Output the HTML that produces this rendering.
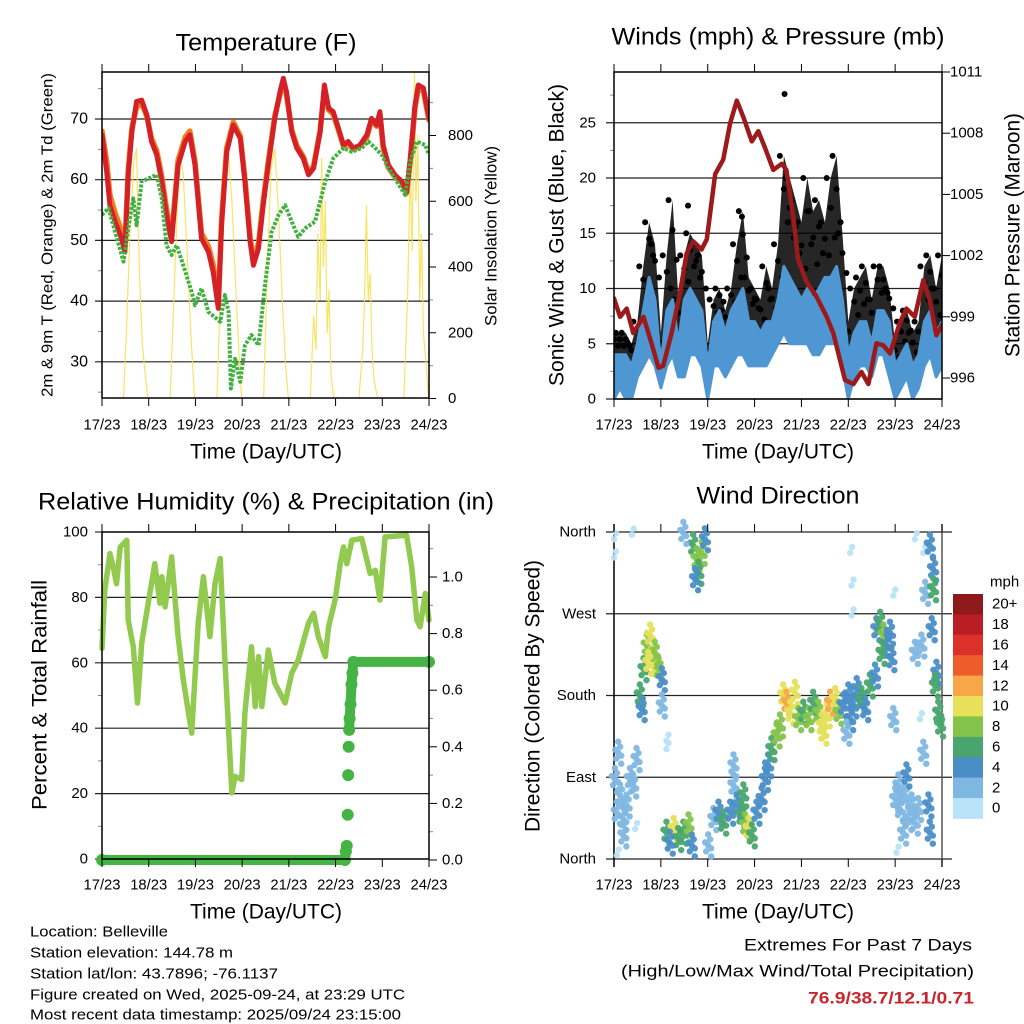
<!DOCTYPE html>
<html><head><meta charset="utf-8"><style>
html,body{margin:0;padding:0;background:#fff;}
svg{display:block;font-family:"Liberation Sans",Arial,sans-serif;}
</style></head><body>
<svg id="chart" width="1024" height="1024" viewBox="0 0 1024 1024" xmlns="http://www.w3.org/2000/svg">
<rect x="0" y="0" width="1024" height="1024" fill="#fff"/>
</svg>
<script>
// ---------- DATA ----------
const dayLabels = ["17/23","18/23","19/23","20/23","21/23","22/23","23/23","24/23"];
// Temperature panel
const tempT = [0.00,0.10,0.17,0.28,0.42,0.49,0.56,0.64,0.74,0.85,0.96,1.06,1.17,1.28,1.38,1.49,1.63,1.78,1.88,1.99,2.13,2.28,2.38,2.49,2.56,2.67,2.81,2.96,3.06,3.17,3.24,3.35,3.45,3.56,3.70,3.81,3.88,3.95,4.06,4.17,4.31,4.42,4.53,4.67,4.76,4.85,4.95,5.06,5.17,5.27,5.38,5.52,5.67,5.77,5.88,5.95,6.02,6.13,6.27,6.42,6.52,6.60,6.70,6.77,6.88,7.00];
const temp2m = [67.4,61.3,55.8,53.1,50.3,48.1,60.8,67.9,72.9,73.1,70.7,66.3,64.1,59.7,54.2,49.8,62.4,66.3,67.4,62.4,50.3,48.1,44.8,38.8,52.5,64.6,69.0,66.8,59.7,49.8,45.9,48.7,55.8,62.4,70.1,74.5,76.7,74.5,67.9,65.2,63.5,60.8,61.9,67.9,75.6,71.8,71.2,68.5,65.7,66.3,65.2,65.7,67.4,70.1,69.0,71.2,65.7,62.4,60.8,59.7,58.0,63.5,72.3,75.6,75.1,70.1];
const temp9m = [68.0,63.0,57.5,54.5,51.5,48.8,61.5,68.5,72.0,72.5,70.5,66.8,64.8,60.5,55.2,50.6,63.2,67.0,68.0,63.0,51.2,49.0,46.0,39.5,53.5,65.2,69.5,67.2,60.2,50.5,46.8,49.5,56.5,63.0,70.5,74.0,76.0,74.0,68.2,65.6,63.8,61.2,62.2,68.2,75.0,71.5,70.8,68.2,65.5,66.0,65.0,65.5,67.0,69.8,68.8,70.8,65.2,62.0,60.5,59.5,57.8,63.2,71.8,75.0,74.6,69.8];
const dewT = [0.00,0.14,0.28,0.46,0.56,0.67,0.74,0.85,0.99,1.17,1.28,1.38,1.49,1.60,1.74,1.92,1.99,2.13,2.28,2.53,2.63,2.71,2.76,2.85,2.96,3.06,3.20,3.35,3.49,3.63,3.78,3.92,4.06,4.20,4.35,4.56,4.78,4.95,5.17,5.35,5.56,5.70,5.85,5.99,6.13,6.27,6.49,6.60,6.74,6.92,7.00];
const dewV = [54.2,55.3,51.4,46.5,52.0,56.9,52.5,59.7,60.2,60.8,56.9,49.2,47.6,49.2,45.9,41.5,39.3,42.1,38.2,36.6,41.0,38.2,25.6,30.5,26.7,32.7,34.4,32.7,42.6,51.4,54.2,55.8,53.1,50.6,52.0,53.1,59.7,63.5,65.2,64.6,65.2,66.3,65.2,64.1,61.9,60.2,57.5,63.0,66.3,65.7,64.1];
const solarT = [0,0.46,0.52,0.60,0.68,0.74,0.78,0.81,0.86,0.92,0.98,1.46,1.55,1.62,1.68,1.74,1.82,1.90,1.98,2.46,2.55,2.62,2.70,2.78,2.86,2.94,2.99,3.46,3.54,3.62,3.70,3.78,3.86,3.93,3.99,4.46,4.53,4.58,4.62,4.67,4.70,4.74,4.78,4.82,4.86,4.90,4.96,5.50,5.58,5.62,5.66,5.70,5.74,5.78,5.82,5.90,6.46,6.54,6.60,6.64,6.69,6.72,6.76,6.80,6.84,6.88,6.94,6.99];
const solarV = [0,0,200,500,720,760,500,350,170,80,0,0,350,600,730,680,450,200,0,0,380,650,760,600,350,120,0,0,400,700,760,560,300,100,0,0,250,150,500,300,730,400,600,200,330,80,0,0,150,300,587,300,380,150,60,0,0,300,700,450,990,600,800,300,500,200,100,0];
const tempTicks = [30,40,50,60,70];
const solarTicks = [0,200,400,600,800];
// Wind panel (3-hourly)
const windT = [0,0.125,0.25,0.375,0.5,0.625,0.75,0.875,1,1.125,1.25,1.375,1.5,1.625,1.75,1.875,2,2.125,2.25,2.375,2.5,2.625,2.75,2.875,3,3.125,3.25,3.375,3.5,3.625,3.75,3.875,4,4.125,4.25,4.375,4.5,4.625,4.75,4.875,5,5.125,5.25,5.375,5.5,5.625,5.75,5.875,6,6.125,6.25,6.375,6.5,6.625,6.75,6.875,7];
const windLo = [0,1,0,0,2,3,4,3,1,3,4,2,2,4,4,3,0,3,3,2,3,4,4,3,3,3,3,4,5,6,5,5,5,5,4,4,5,5,5,3,0,2,3,3,2,4,4,2,0,1,2,0,1,3,4,2,3];
const windHi = [4,4,4,3,5,8,11,9,3,8,9,5,9,10,9,8,3,7,8,6,8,9,10,7,7,6,7,7,9,12,11,10,9,10,9,10,11,11,12,9,4,6,7,7,5,8,8,7,3,4,5,3,4,7,8,6,7];
const gust = [6,6,6,5,7,12,16,14,6,13,18,9,13,15,14,13,5,9,10,8,10,14,17,11,10,9,12,10,14,22,20,18,16,20,17,18,16,20,22,15,7,10,11,12,9,12,12,10,5,7,8,6,7,12,13,10,13];
const gustOutT = [3.64,1.58,2.73];
const gustOutV = [27.6,17.5,16.5];
const presT = [0.00,0.13,0.27,0.41,0.63,0.80,0.95,1.05,1.23,1.41,1.55,1.69,1.87,1.98,2.16,2.33,2.48,2.62,2.76,2.94,3.08,3.22,3.40,3.58,3.68,3.83,3.93,4.11,4.32,4.54,4.68,4.82,4.93,5.11,5.28,5.43,5.60,5.75,5.89,6.10,6.24,6.42,6.60,6.74,6.88,7.00];
const presV = [999.9,999.0,999.4,998.2,999.0,997.7,996.5,996.6,998.2,1000.2,1002.1,1002.7,1002.3,1002.8,1006.0,1006.7,1008.5,1009.6,1008.8,1007.6,1008.1,1007.3,1006.2,1006.5,1006.2,1003.8,1001.8,1000.7,1000.0,999.0,998.2,996.9,995.9,995.7,996.3,995.7,997.7,997.6,997.2,998.7,999.4,999.0,1000.8,999.8,998.1,998.6];
const windTicks = [0,5,10,15,20,25];
const presTicks = [996,999,1002,1005,1008,1011];
// RH panel
const rhT = [0.00,0.06,0.17,0.24,0.31,0.39,0.53,0.56,0.67,0.76,0.85,0.99,1.13,1.24,1.28,1.35,1.49,1.63,1.74,1.92,1.99,2.06,2.17,2.31,2.42,2.53,2.63,2.78,2.85,2.99,3.06,3.20,3.28,3.35,3.42,3.56,3.70,3.92,4.06,4.20,4.42,4.53,4.63,4.78,4.85,4.99,5.10,5.17,5.24,5.35,5.56,5.74,5.85,5.95,6.06,6.52,6.63,6.74,6.81,6.92,7.00];
const rhV = [64.4,82.2,93.4,89.3,84.2,95.4,97.5,73.1,64.9,47.7,66.0,78.2,90.3,78.2,86.3,77.1,92.4,68.0,54.8,38.5,55.8,72.1,86.3,68.0,84.2,91.9,60.9,20.2,25.3,24.3,44.6,64.9,46.6,61.9,46.6,63.9,53.8,47.7,56.8,60.9,72.1,75.1,68.0,61.9,71.0,79.2,90.3,95.4,90.3,97.5,98.0,87.3,88.3,79.2,98.5,99.0,89.3,73.1,71.0,81.2,73.1];
const rainT = [0,5.20,5.22,5.24,5.26,5.27,5.28,5.29,5.30,5.32,5.34,5.36,5.38,7.00];
const rainV = [0,0,0.03,0.05,0.16,0.30,0.40,0.46,0.50,0.55,0.62,0.66,0.70,0.70];
const rhTicks = [0,20,40,60,80,100];
const rainTicks = ["0.0","0.2","0.4","0.6","0.8","1.0"];
// Wind direction panel
const wdDay = [0.06,0.13,0.20,0.27,0.34,0.41,0.48,0.09,0.02,0.20,0.45,0.06,
 0.55,0.63,0.70,0.77,0.80,0.87,0.95,1.02,0.59,1.02,0.73,
 1.12,1.27,1.37,1.48,1.59,1.66,1.19,
 1.69,1.76,1.87,1.80,1.73,1.94,1.48,
 2.01,2.12,2.23,2.33,
 2.48,2.55,2.62,2.72,2.80,2.87,2.94,2.76,2.55,
 3.04,3.15,3.22,3.29,3.36,3.47,3.54,
 3.61,3.68,3.76,3.86,3.93,4.04,4.15,4.25,4.36,4.43,4.54,4.61,4.72,4.79,4.47,
 4.89,5.00,5.11,5.18,5.28,5.36,5.46,5.57,5.04,4.96,
 5.60,5.68,5.75,5.82,5.71,5.89,5.92,
 6.00,6.10,6.21,6.28,6.35,6.42,6.17,6.49,6.07,6.24,6.03,
 6.42,6.60,6.74,6.81,6.64,6.81,6.78,6.88,6.85,6.96,6.92,6.71,6.74,6.60,6.53,6.42,6.56,5.96,5.96,5.07,5.07,5.04,0.38,0.00,0.00,1.12,1.12];
const wdDir = [51,70,44,59,88,81,110,117,88,26,33,4,
 180,209,235,246,220,227,209,198,165,169,216,
 29,33,22,29,37,15,18,
 345,330,337,315,308,352,359,
 15,44,51,40,
 51,81,59,48,37,33,26,70,103,
 51,66,88,103,121,136,147,
 180,172,161,183,154,161,154,172,161,147,158,172,176,161,139,
 169,180,169,187,176,165,191,202,154,139,
 253,260,246,235,227,249,220,
 66,55,70,44,59,40,29,55,81,92,7,
 352,337,345,319,293,297,253,205,191,147,161,59,29,117,154,227,235,290,154,301,268,337,357,352,332,130,121];
const wdSpd = [2,2,2,2,2,2,2,2,2,2,0,0,
 6,6,8,10,10,8,8,4,4,2,10,
 6,10,6,6,8,4,4,
 6,8,8,6,4,4,2,
 2,2,4,6,
 4,2,4,6,8,10,6,6,2,
 4,4,4,4,6,8,8,
 10,12,10,10,8,6,8,6,8,10,10,12,10,8,10,
 4,4,4,4,6,4,6,4,4,2,
 4,6,8,4,6,4,4,
 2,2,2,2,2,2,2,2,2,4,0,
 0,0,4,4,2,6,4,4,6,6,6,4,4,2,0,2,2,0,2,0,0,0,0,0,0,0,0];
const dirLabels = ["North","East","South","West","North"];
const speedBins = ["0","2","4","6","8","10","12","14","16","18","20+"];
const speedColors = ["#b8e2f7","#7fb7e3","#4a8ec7","#49a56d","#84c44b","#e6e05b","#f7a747","#ef5c2b","#dc312a","#bb1d24","#8e1a1c"];

// ---------- HELPERS ----------
const NS = "http://www.w3.org/2000/svg";
const svg = document.getElementById("chart");
function mk(tag, attrs, name, parent){
  const el = document.createElementNS(NS, tag);
  for (const k in attrs) el.setAttribute(k, attrs[k]);
  
  
  (parent||svg).appendChild(el);
  return el;
}
function txt(x,y,s,size,name,opts){
  opts = opts||{};
  const a = {x:x,y:y,"font-size":size,"fill":opts.fill||"#000","text-anchor":opts.anchor||"middle","dominant-baseline":"central"};
  if (opts.len) { a.textLength = opts.len; a.lengthAdjust = "spacingAndGlyphs"; }
  if (opts.weight) a["font-weight"] = opts.weight;
  if (opts.rot) a.transform = "rotate(-90 "+x+" "+y+")";
  const t = mk("text", a, name);
  t.textContent = s;
  return t;
}
function ln(x1,y1,x2,y2,name,w,c){
  return mk("line",{x1:x1,y1:y1,x2:x2,y2:y2,stroke:c||"#000","stroke-width":w||1},name);
}
function poly(xs,ys,name,color,w,extra){
  const pts = xs.map((x,i)=>x.toFixed(1)+","+ys[i].toFixed(1)).join(" ");
  const a = {points:pts,fill:"none",stroke:color,"stroke-width":w,"stroke-linejoin":"round","stroke-linecap":"round"};
  if (extra) for (const k in extra) a[k]=extra[k];
  return mk("polyline",a,name);
}
function xAxis(L,R,B,T,name,labelY){
  const g = mk("g",{},name);
  for (let i=0;i<dayLabels.length;i++){
    const x = L + i*(R-L)/7;
    const t1 = mk("line",{x1:x,y1:B,x2:x,y2:B+8,stroke:"#000","stroke-width":1},"x-tick",g);
    const t2 = mk("line",{x1:x,y1:T,x2:x,y2:T-8,stroke:"#000","stroke-width":1},"x-tick-top",g);
    txt(x,labelY,dayLabels[i],15,"x-tick-label",{len:37});
  }
}

// ---------- PANEL 1: TEMPERATURE ----------
(function(){
  const L=102,R=429,T=72,B=398;
  const x = d => L + d*(R-L)/7;
  const y = v => 119 - (v-70)*6.07;
  const ys = s => 398.5 - s*65.75/200;
  const clip = mk("clipPath",{id:"c1"},"temp-clip");
  mk("rect",{x:L,y:T,width:R-L,height:B-T},"temp-clip-rect",clip);
  tempTicks.forEach(v=>{ ln(L-7,y(v),R,y(v),"temp-gridline",1.2,"#222"); txt(88,y(v),String(v),16,"temp-y-tick-label",{anchor:"end"}); });
  [25,35,45,55,65,75].forEach(v=>ln(L-4,y(v),L,y(v),"temp-minor-tick",1,"#888"));
  solarTicks.forEach(v=>{ ln(R,ys(v),R+7,ys(v),"solar-tick",1); txt(448,ys(v),String(v),15,"solar-y-tick-label",{anchor:"start"}); });
  [100,300,500,700,900].forEach(v=>ln(R,ys(v),R+4,ys(v),"solar-minor-tick",1,"#888"));
  const g = mk("g",{"clip-path":"url(#c1)"},"temp-series");
  const s1 = poly(solarT.map(x),solarV.map(ys),"solar-insolation-line","#f6df48",1.2,{opacity:0.85});
  g.appendChild(s1);
  const s2 = poly(tempT.map(x),temp9m.map(y),"temp-9m-line","#f47b22",5.5);
  g.appendChild(s2);
  const s3 = poly(tempT.map(x),temp2m.map(y),"temp-2m-line","#d42127",5);
  g.appendChild(s3);
  const s4 = poly(dewT.map(x),dewV.map(y),"dewpoint-2m-line","#44b043",4,{"stroke-dasharray":"3 1.5","stroke-linecap":"butt"});
  g.appendChild(s4);
  mk("rect",{x:L,y:T,width:R-L,height:B-T,fill:"none",stroke:"#000","stroke-width":1.5},"temp-plot-frame");
  xAxis(L,R,B,T,"temp-x-axis",425);
  txt(266,43,"Temperature (F)",24,"temp-title",{len:181});
  txt(266,452,"Time (Day/UTC)",21,"temp-x-axis-title",{len:152});
  txt(48,235,"2m & 9m T (Red, Orange) & 2m Td (Green)",16,"temp-y-axis-title",{rot:true,len:324});
  txt(491,236,"Solar Insolation (Yellow)",17,"solar-y-axis-title",{rot:true,len:180});
})();

// ---------- PANEL 2: WINDS ----------
(function(){
  const L=614,R=942,T=72,B=399;
  const x = d => L + d*(R-L)/7;
  const y = v => 399 - v*11.05;
  const yp = p => 378 - (p-996)*20.4;
  const clip = mk("clipPath",{id:"c2"},"wind-clip");
  mk("rect",{x:L,y:T,width:R-L,height:B-T},"wind-clip-rect",clip);
  windTicks.forEach(v=>{ ln(L-8,y(v),R,y(v),"wind-gridline",1.2,"#222"); txt(596,y(v),String(v),15,"wind-y-tick-label",{anchor:"end"}); });
  [2.5,7.5,12.5,17.5,22.5,27.5].forEach(v=>ln(L-4,y(v),L,y(v),"wind-minor-tick",1,"#888"));
  presTicks.forEach(v=>{ ln(R,yp(v),R+8,yp(v),"pressure-tick",1); txt(950,yp(v),String(v),15,"pressure-y-tick-label",{anchor:"start"}); });
  const g = mk("g",{"clip-path":"url(#c2)"},"wind-series");
  // gust band (black)
  const top = windT.map((t,i)=>x(t).toFixed(1)+","+y(gust[i]).toFixed(1));
  const bot = windT.map((t,i)=>x(t).toFixed(1)+","+y(windHi[i]).toFixed(1)).reverse();
  const gb = mk("polygon",{points:top.concat(bot).join(" "),fill:"#000","fill-opacity":0.85},"gust-band",g);
  windT.forEach((t,i)=>{
    [0,0.3,0.6].forEach((f,j)=>{
      const d = mk("circle",{cx:x(t)+(j-1)*4,cy:y(gust[i]-f*(gust[i]-windHi[i])),r:3,fill:"#000"},"gust-point",g);
    });
  });
  gustOutT.forEach((t,i)=>{ mk("circle",{cx:x(t),cy:y(gustOutV[i]),r:3,fill:"#000"},"gust-outlier-point",g); });
  // wind band (blue)
  const wt = windT.map((t,i)=>x(t).toFixed(1)+","+y(windHi[i]).toFixed(1));
  const wb = windT.map((t,i)=>x(t).toFixed(1)+","+y(windLo[i]).toFixed(1)).reverse();
  mk("polygon",{points:wt.concat(wb).join(" "),fill:"#4f97d2",stroke:"#4f97d2","stroke-width":3,"stroke-linejoin":"round"},"wind-speed-band",g);
  const p = poly(presT.map(x),presV.map(yp),"pressure-line","#9c1a1c",4.5);
  g.appendChild(p);
  mk("rect",{x:L,y:T,width:R-L,height:B-T,fill:"none",stroke:"#000","stroke-width":1.5},"wind-plot-frame");
  xAxis(L,R,B,T,"wind-x-axis",425);
  txt(778,37,"Winds (mph) & Pressure (mb)",24,"wind-title",{len:333});
  txt(778,452,"Time (Day/UTC)",21,"wind-x-axis-title",{len:152});
  txt(557,235,"Sonic Wind & Gust (Blue, Black)",21,"wind-y-axis-title",{rot:true,len:302});
  txt(1013,235,"Station Pressure (Maroon)",21,"pressure-y-axis-title",{rot:true,len:244});
})();

// ---------- PANEL 3: RH ----------
(function(){
  const L=102,R=429,T=532,B=859;
  const x = d => L + d*(R-L)/7;
  const y = v => 859 - v*3.27;
  const yr = v => 860 - v*283;
  rhTicks.forEach(v=>{ if(v>0&&v<100) ln(L-7,y(v),R,y(v),"rh-gridline",1.2,"#222"); else ln(L-7,y(v),L,y(v),"rh-tick",1); txt(88,y(v),String(v),15,"rh-y-tick-label",{anchor:"end"}); });
  [10,30,50,70,90].forEach(v=>ln(L-4,y(v),L,y(v),"rh-minor-tick",1,"#888"));
  rainTicks.forEach(v=>{ const yy=yr(parseFloat(v)); ln(R,yy,R+8,yy,"rain-tick",1); txt(442,yy,v,15,"rain-y-tick-label",{anchor:"start"}); });
  [0.1,0.3,0.5,0.7,0.9,1.1].forEach(v=>ln(R,yr(v),R+4,yr(v),"rain-minor-tick",1,"#888"));
  const r = poly(rhT.map(x),rhV.map(y),"relative-humidity-line","#92c94f",5.5);
  const lo = rainT.slice(0,4), hi = rainT.slice(7);
  poly(lo.map(x),rainV.slice(0,4).map(yr),"rain-line-early","#45b445",10);
  poly(hi.map(x),rainV.slice(7).map(yr),"rain-line-late","#45b445",10);
  rainT.forEach((t,i)=>{ mk("circle",{cx:x(t),cy:yr(rainV[i]),r:6,fill:"#45b445"},"rain-point"); });
  mk("rect",{x:L,y:T,width:R-L,height:B-T,fill:"none",stroke:"#000","stroke-width":1.5},"rh-plot-frame");
  xAxis(L,R,B,T,"rh-x-axis",885);
  txt(266,502,"Relative Humidity (%) & Precipitation (in)",24,"rh-title",{len:456});
  txt(266,912,"Time (Day/UTC)",21,"rh-x-axis-title",{len:152});
  txt(40,695,"Percent & Total Rainfall",21,"rh-y-axis-title",{rot:true,len:230});
})();

// ---------- PANEL 4: WIND DIRECTION ----------
(function(){
  const L=614,R=942,T=532,B=859;
  const x = d => L + d*(R-L)/7;
  const y = d => 859 - d*(B-T)/360;
  dirLabels.forEach((s,i)=>{ const yy=y(i*90); ln(L-8,yy,952,yy,"direction-gridline",1.2,"#222"); txt(596,yy,s,15,"direction-y-tick-label",{anchor:"end"}); });
  ln(L,T-8,L,B+8,"direction-y-axis",1.5);
  ln(R,T-8,R,B+8,"direction-right-axis",1.5,"#555");
  const g = mk("g",{},"direction-points");
  const offs = [[0,0],[2,-6],[-2,6],[0,-11],[3,11],[-3,-3],[3,3]];
  wdDay.forEach((d,i)=>{
    const bin = Math.min(10,Math.floor(wdSpd[i]/2));
    const n = wdSpd[i]===0 ? 2 : offs.length;
    for(let k=0;k<n;k++){
      const c = mk("circle",{cx:x(d)+offs[k][0],cy:y(wdDir[i])+offs[k][1],r:3.2,fill:speedColors[bin],"fill-opacity":0.95},"direction-point",g);
    }
  });
  xAxis(L,R,B,T,"direction-x-axis",885);
  // colorbar
  const cb = mk("g",{},"speed-colorbar");
  const top=594, h=20.4;
  for(let i=0;i<speedBins.length;i++){
    const j = speedBins.length-1-i;
    mk("rect",{x:953,y:top+i*h,width:30,height:h+0.5,fill:speedColors[j]},"colorbar-swatch",cb);
    txt(992,top+i*h+h/2,speedBins[j],15,"colorbar-label",{anchor:"start"});
  }
  txt(990,582,"mph",15,"colorbar-unit",{anchor:"start"});
  txt(778,496,"Wind Direction",24,"direction-title",{len:163});
  txt(778,912,"Time (Day/UTC)",21,"direction-x-axis-title",{len:152});
  txt(533,696,"Direction (Colored By Speed)",21,"direction-y-axis-title",{rot:true,len:272});
})();

// ---------- FOOTER ----------
txt(30,932,"Location: Belleville",15,"location-text",{anchor:"start",len:138});
txt(30,953,"Station elevation: 144.78 m",15,"elevation-text",{anchor:"start",len:203});
txt(30,974,"Station lat/lon: 43.7896; -76.1137",15,"latlon-text",{anchor:"start",len:248});
txt(30,995,"Figure created on Wed, 2025-09-24, at 23:29 UTC",15,"created-text",{anchor:"start",len:375});
txt(30,1015,"Most recent data timestamp: 2025/09/24 23:15:00",15,"timestamp-text",{anchor:"start",len:371});
txt(972,945,"Extremes For Past 7 Days",17,"extremes-title",{anchor:"end",len:228});
txt(974,971,"(High/Low/Max Wind/Total Precipitation)",17,"extremes-subtitle",{anchor:"end",len:353});
txt(974,998,"76.9/38.7/12.1/0.71",17,"extremes-values",{anchor:"end",len:166,fill:"#c8262c",weight:"bold"});
</script>
</body></html>
